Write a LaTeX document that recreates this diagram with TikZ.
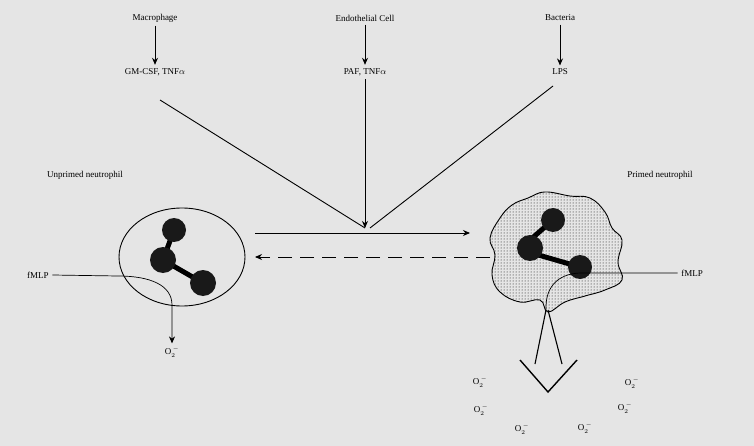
\documentclass[tikz,border=0pt]{standalone}
\usepackage{fontspec}
\setmainfont{Liberation Serif}
\usetikzlibrary{patterns, arrows.meta, shapes.geometric}

\tikzset{
    lbl/.style={font=\small},
    arr/.style={-{Stealth[length=7pt,width=6pt]}, line width=0.9pt},
    lobe/.style={fill=black!90},
}

\begin{document}
\begin{tikzpicture}[x=1pt,y=-1pt]
    \fill[black!10] (0,0) rectangle (754,446);
    \useasboundingbox (0,0) rectangle (754,446);

    % sources and mediators
    \node[lbl] (mac) at (155,18) {Macrophage};
    \node[lbl] (endo) at (365,18) {Endothelial Cell};
    \node[lbl] (bac) at (560,18) {Bacteria};
    \node[lbl] (gm) at (155,72) {GM-CSF, TNF$\alpha$};
    \node[lbl] (paf) at (365,72) {PAF, TNF$\alpha$};
    \node[lbl] (lps) at (560,72) {LPS};
    \draw[arr] (mac) -- (gm);
    \draw[arr] (endo) -- (paf);
    \draw[arr] (bac) -- (lps);

    \coordinate (meet) at (365,228);
    \draw[line width=0.9pt] (160,100) -- (meet);
    \draw[arr] (paf) -- (meet);
    \draw[line width=0.9pt] (553,86) -- (370,228);

    % priming arrows
    \coordinate (fwdA) at (255,233);
    \coordinate (fwdB) at (470,233);
    \coordinate (bckA) at (490,257);
    \coordinate (bckB) at (255,257);
    \draw[arr] (fwdA) -- (fwdB);
    \draw[arr, dashed, dash pattern=on 14pt off 8pt] (bckA) -- (bckB);

    % unprimed neutrophil
    \node[lbl] (unp) at (85,175) {Unprimed neutrophil};
    \node[draw, ellipse, line width=0.9pt, minimum width=126, minimum height=98] (cellA) at (182,257) {};
    \draw[line width=5pt] (174,230) -- (163,260) -- (203,283);
    \fill[lobe] (174,230) circle (12) (163,260) circle (13) (203,283) circle (13);
    \node[lbl] (fmA) at (38,275) {fMLP};
    \node[lbl] (oxA) at (172,352) {O$_2^{\,-}$};
    \draw[arr, line width=0.7pt] (fmA.east) -- (118,276)
        .. controls (150,276) and (172,285) .. (172,305) -- (oxA.north);

    % primed neutrophil
    \node[lbl] (pri) at (660,175) {Primed neutrophil};
    \draw[line width=0.9pt, fill=black!10, pattern=dots] plot[smooth cycle, tension=0.7] coordinates {
        (545,192) (570,196) (590,198) (605,212) (612,228) (622,240) (618,262)
        (622,280) (605,290) (585,296) (565,302) (548,312) (540,300) (520,302)
        (500,292) (492,275) (495,255) (490,238) (500,218) (512,205) (528,198)};
    \draw[line width=5pt] (553,220) -- (530,240) -- (528,252) -- (580,267);
    \fill[lobe] (553,220) circle (12) (530,248) circle (13) (580,267) circle (12);
    \node[lbl] (fmB) at (692,273) {fMLP};
    \draw[line width=0.7pt] (fmB.west) -- (585,273)
        .. controls (560,272) and (545,285) .. (546,310);
    \draw[line width=1.1pt] (546,310) -- (535,364) (548,310) -- (562,364);
    \draw[line width=1.4pt] (520,360) -- (548,392) -- (577,360);

    \node[lbl] (o1) at (480,382) {O$_2^{\,-}$};
    \node[lbl] (o2) at (632,383) {O$_2^{\,-}$};
    \node[lbl] (o3) at (481,410) {O$_2^{\,-}$};
    \node[lbl] (o4) at (625,408) {O$_2^{\,-}$};
    \node[lbl] (o5) at (522,429) {O$_2^{\,-}$};
    \node[lbl] (o6) at (585,428) {O$_2^{\,-}$};
\end{tikzpicture}
\end{document}
